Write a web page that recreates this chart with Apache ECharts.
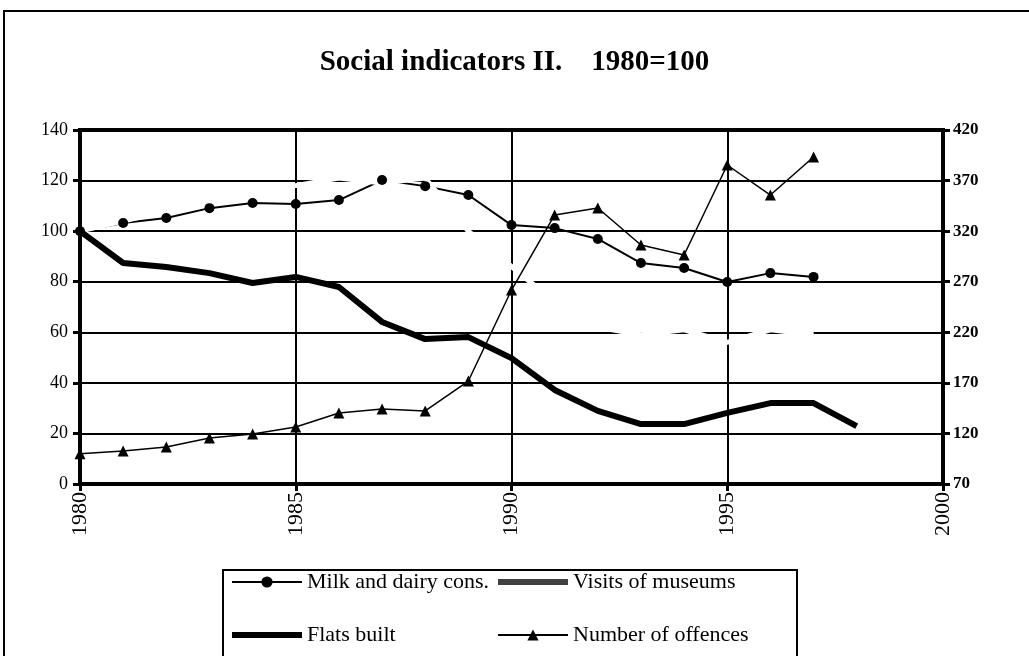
<!DOCTYPE html>
<html>
<head>
<meta charset="utf-8">
<title>Social indicators II</title>
<script src="https://cdn.jsdelivr.net/npm/echarts@6/dist/echarts.min.js"></script>
<style>
    html, body { margin: 0; padding: 0; background: #fff; }
    #main { width: 1029px; height: 656px; }
</style>
</head>
<body>
<div id="main"></div>
<script>
    // years 1980..1998
    var years = [1980, 1981, 1982, 1983, 1984, 1985, 1986, 1987, 1988, 1989,
                 1990, 1991, 1992, 1993, 1994, 1995, 1996, 1997, 1998];
    var milk = [100, 103.2, 105.2, 109.1, 111.1, 110.7, 112.3, 120.2, 117.8, 114.3,
                102.4, 101.2, 96.9, 87.4, 85.4, 79.9, 83.4, 81.9, null];
    // museums line is drawn in white in the original, only seen where it cuts the grid
    var museums = [100, 104, 108, 111, 115, 118, 121, 119, 121, 100,
                   86, 72, 62, 59, 61, 56, 61, 59, null];
    var flats = [100, 87.4, 85.8, 83.4, 79.5, 81.9, 77.9, 64.1, 57.3, 58.1,
                 49.8, 37.2, 28.9, 23.7, 23.7, 28.1, 32.0, 32.0, 22.9];
    var offences = [100, 102.6, 106.6, 115.5, 119.4, 126.4, 140.2, 144.2, 142.2, 171.8,
                    261.8, 336, 342.9, 306.3, 296.4, 385.4, 355.7, 393.3, null];

    function pairs(arr) {
        var out = [];
        for (var i = 0; i < years.length; i++) {
            if (arr[i] !== null) out.push([years[i], arr[i]]);
        }
        return out;
    }

    var serif = 'Liberation Serif';
    var chart = echarts.init(document.getElementById('main'));

    var legendText = { fontFamily: serif, fontSize: 22, color: '#000' };

    var option = {
        backgroundColor: '#fff',
        animation: false,
        title: {
            text: 'Social indicators II.    1980=100',
            left: 'center',
            top: 43,
            textStyle: { fontFamily: serif, fontWeight: 'bold', fontSize: 29, color: '#000' }
        },
        graphic: [
            { type: 'rect', shape: { x: 4, y: 11, width: 1040, height: 660 },
              style: { fill: null, stroke: '#000', lineWidth: 2 }, z: 100 },
            { type: 'rect', shape: { x: 223, y: 570, width: 574, height: 100 },
              style: { fill: null, stroke: '#000', lineWidth: 2 }, z: 100 }
        ],
        grid: {
            left: 80, right: 86, top: 130, bottom: 172,
            show: true, borderColor: '#000', borderWidth: 4
        },
        legend: [
            {
                orient: 'vertical', left: 229, top: 571, padding: 0,
                itemWidth: 70, itemHeight: 14, itemGap: 31,
                textStyle: legendText,
                data: [
                    'Milk and dairy cons.',
                    { name: 'Flats built', itemStyle: { opacity: 0 },
                      lineStyle: { color: '#000', width: 6 } }
                ]
            },
            {
                orient: 'vertical', left: 495, top: 571, padding: 0,
                itemWidth: 70, itemHeight: 14, itemGap: 31,
                textStyle: legendText,
                data: [
                    { name: 'Visits of museums', itemStyle: { opacity: 0 },
                      lineStyle: { color: '#404040', width: 6 } },
                    'Number of offences'
                ]
            }
        ],
        xAxis: {
            type: 'value', min: 1980, max: 2000, interval: 5,
            axisLine: { show: true, lineStyle: { color: '#000', width: 4 } },
            axisTick: { show: true, length: 7, lineStyle: { color: '#000', width: 3 } },
            axisLabel: {
                rotate: 90, margin: 8, color: '#000',
                fontFamily: serif, fontSize: 22,
                formatter: function (v) { return String(v); }
            },
            splitLine: { show: true, lineStyle: { color: '#000', width: 2 } }
        },
        yAxis: [
            {
                type: 'value', min: 0, max: 140, interval: 20,
                axisLine: { show: true, lineStyle: { color: '#000', width: 4 } },
                axisTick: { show: true, length: 7, lineStyle: { color: '#000', width: 3 } },
                axisLabel: { color: '#000', fontFamily: serif, fontSize: 18, margin: 12 },
                splitLine: { show: true, lineStyle: { color: '#000', width: 2 } }
            },
            {
                type: 'value', min: 70, max: 420, interval: 50, position: 'right',
                axisLine: { show: true, lineStyle: { color: '#000', width: 4 } },
                axisTick: { show: true, length: 7, lineStyle: { color: '#000', width: 3 } },
                axisLabel: { color: '#000', fontFamily: serif, fontWeight: 'bold', fontSize: 17, margin: 10 },
                splitLine: { show: false }
            }
        ],
        series: [
            {
                name: 'Milk and dairy cons.', type: 'line', yAxisIndex: 0,
                data: pairs(milk),
                symbol: 'circle', symbolSize: 10,
                lineStyle: { color: '#000', width: 2 },
                itemStyle: { color: '#000' }
            },
            {
                name: 'Visits of museums', type: 'line', yAxisIndex: 0,
                data: pairs(museums),
                symbol: 'none',
                lineStyle: { color: '#fff', width: 5 },
                itemStyle: { color: '#fff' }
            },
            {
                name: 'Flats built', type: 'line', yAxisIndex: 0,
                data: pairs(flats),
                symbol: 'none',
                lineStyle: { color: '#000', width: 6 },
                itemStyle: { color: '#000' }
            },
            {
                name: 'Number of offences', type: 'line', yAxisIndex: 1,
                data: pairs(offences),
                symbol: 'triangle', symbolSize: 11,
                lineStyle: { color: '#000', width: 1.5 },
                itemStyle: { color: '#000' }
            }
        ]
    };

    chart.setOption(option);
</script>
</body>
</html>
